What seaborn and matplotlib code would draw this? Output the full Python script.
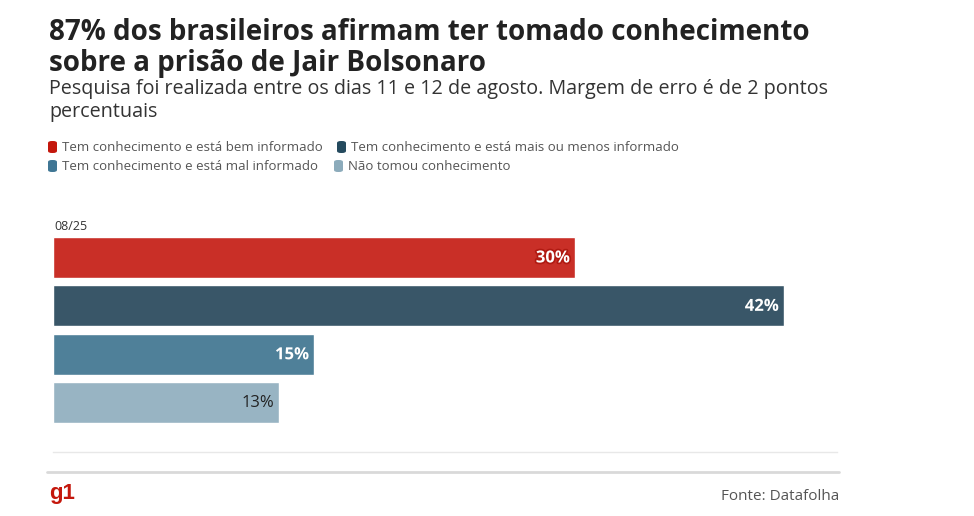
import matplotlib
matplotlib.use("Agg")
import matplotlib.pyplot as plt
import matplotlib.patheffects as pe
from matplotlib.patches import FancyBboxPatch
from matplotlib.lines import Line2D
import seaborn as sns
import pandas as pd

# data
categories = ["Tem conhecimento e está bem informado",
              "Tem conhecimento e está mais ou menos informado",
              "Tem conhecimento e está mal informado",
              "Não tomou conhecimento"]
values = [30, 42, 15, 13]
period = "08/25"
bar_colors = ["#c92f27", "#395668", "#4f8099", "#98b4c3"]
legend_colors = ["#c4170c", "#244a5e", "#3f7694", "#8cabbb"]

W, H = 974, 516
sns.set_theme(style="white")
plt.rcParams["font.family"] = ["Open Sans", "DejaVu Sans"]

fig = plt.figure(figsize=(W / 100, H / 100), dpi=100)


def fx(px):
    return px / W


def fy(py):
    return 1 - py / H


# axes: x 53..837 px, y 232..452 px
ax = fig.add_axes([fx(53), fy(452), fx(837) - fx(53), (452 - 232) / H])
df = pd.DataFrame({"cat": categories, "val": values})
sns.barplot(data=df, y="cat", x="val", hue="cat", palette=bar_colors,
            orient="h", width=0.845, legend=False, ax=ax, saturation=1)
ax.set_xlim(0, 45.06)
ax.set_ylim(4.02, -0.526)
ax.set_xticks([])
ax.set_yticks([])
ax.set_xlabel("")
ax.set_ylabel("")
for s in ["top", "left", "right"]:
    ax.spines[s].set_visible(False)
ax.spines["bottom"].set_color("#e8e8e8")
ax.spines["bottom"].set_linewidth(1)

for i, (v, c) in enumerate(zip(values, bar_colors)):
    if i < 3:
        ax.text(v - 0.3, i, f"{v}%", ha="right", va="center", fontsize=12,
                fontweight="bold", color="white",
                path_effects=[pe.withStroke(linewidth=2.5, foreground=c if i else "#b01a12")])
    else:
        ax.text(v - 0.3, i, f"{v}%", ha="right", va="center", fontsize=12,
                color="#222222")

fig.text(fx(54), fy(226), period, fontsize=9, color="#333333", va="center")

# titles
fig.text(fx(49), fy(33), "87% dos brasileiros afirmam ter tomado conhecimento",
         fontsize=20, fontweight="bold", color="#222222", va="center")
fig.text(fx(49), fy(63), "sobre a prisão de Jair Bolsonaro",
         fontsize=20, fontweight="bold", color="#222222", va="center")
fig.text(fx(49), fy(89), "Pesquisa foi realizada entre os dias 11 e 12 de agosto. Margem de erro é de 2 pontos",
         fontsize=14.2, color="#333333", va="center")
fig.text(fx(49), fy(112), "percentuais", fontsize=14.2, color="#333333", va="center")

# legend
leg_pos = [(48, 147), (337, 147), (48, 166), (334, 166)]
for (lx, ly), lab, col in zip(leg_pos, categories, legend_colors):
    fig.patches.append(FancyBboxPatch((fx(lx), fy(ly + 6)), fx(9), 12 / H,
                                      boxstyle="round,pad=0,rounding_size=0.004",
                                      transform=fig.transFigure, facecolor=col,
                                      edgecolor="none"))
    fig.text(fx(lx + 14), fy(ly), lab, fontsize=9.5, color="#555555", va="center")

# footer
fig.add_artist(Line2D([fx(47), fx(839)], [fy(472), fy(472)], color="#d9d9d9",
                      linewidth=2, transform=fig.transFigure))
fig.text(fx(49), fy(493), "g1", fontsize=16, fontweight="bold", color="#c4170c",
         va="center", family=["Liberation Sans", "DejaVu Sans"])
fig.text(fx(839), fy(496), "Fonte: Datafolha", fontsize=11, color="#555555",
         va="center", ha="right")

fig.savefig("out.png", dpi=100)
